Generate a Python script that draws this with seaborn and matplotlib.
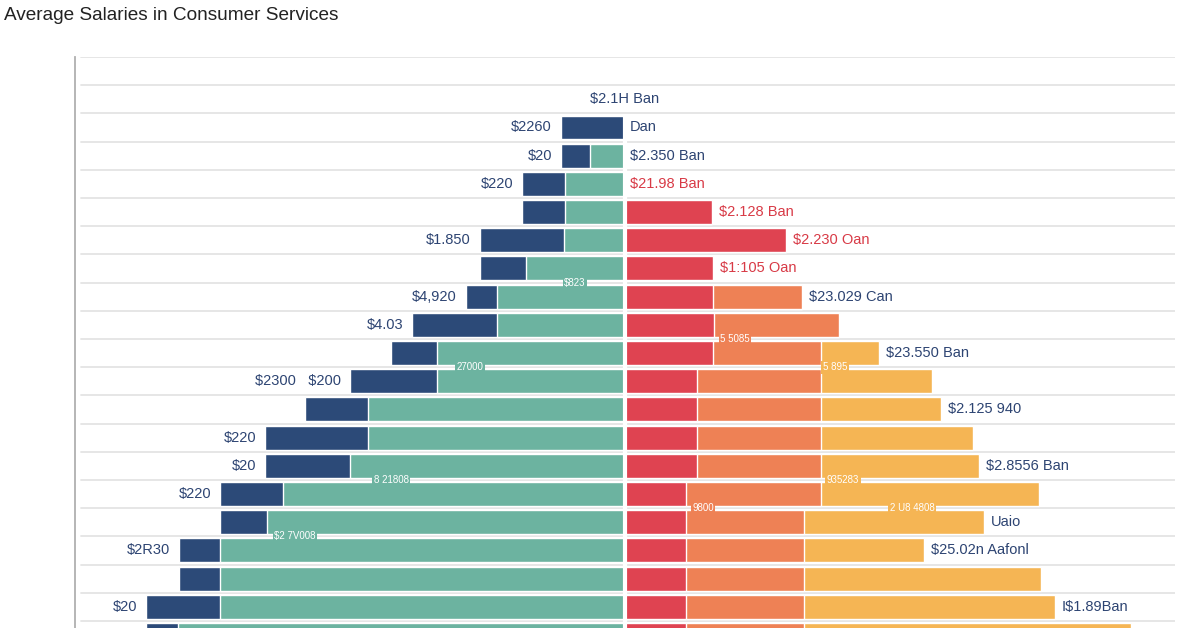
import matplotlib.pyplot as plt
import seaborn as sns
import pandas as pd

# rows top to bottom; row 0 is the empty band under the top gridline,
# row 1 only carries a label, row 20 is cut by the bottom edge
rows = [f"r{i}" for i in range(21)]

# left side, $k from the centre line
navy_total = [0, 0, 6.4, 6.4, 10.3, 10.3, 14.5, 14.5, 15.9, 21.3, 23.4,
              27.5, 32.0, 36.0, 36.0, 40.5, 40.5, 44.6, 44.6, 47.9, 47.9]
teal = [0, 0, 0, 3.5, 6.0, 6.0, 6.1, 9.9, 12.8, 12.8, 18.8,
        18.8, 25.7, 25.7, 27.5, 34.2, 35.8, 40.5, 40.5, 40.5, 44.7]

# right side, cumulative $k from the centre line
red = [0, 0, 0, 0, 0, 8.7, 16.1, 8.8, 8.8, 8.9, 8.8,
       7.2, 7.2, 7.2, 7.2, 6.1, 6.1, 6.1, 6.1, 6.1, 6.1]
orange = [0, 0, 0, 0, 0, 8.7, 16.1, 8.8, 17.7, 21.4, 19.6,
          19.6, 19.6, 19.6, 19.6, 19.6, 17.9, 17.9, 17.9, 17.9, 17.9]
yellow = [0, 0, 0, 0, 0, 8.7, 16.1, 8.8, 17.7, 21.4, 25.4,
          30.7, 31.6, 34.8, 35.4, 41.4, 35.9, 29.9, 41.6, 43.0, 50.6]

left_labels = {2: "$2260", 3: "$20", 4: "$220", 6: "$1.850", 8: "$4,920",
               9: "$4.03", 11: "$2300   $200", 13: "$220", 14: "$20",
               15: "$220", 17: "$2R30", 19: "$20"}
right_labels = {2: ("Dan", "navy"), 3: ("$2.350 Ban", "navy"),
                4: ("$21.98 Ban", "red"), 5: ("$2.128 Ban", "red"),
                6: ("$2.230 Oan", "red"), 7: ("$1:105 Oan", "red"),
                8: ("$23.029 Can", "navy"), 10: ("$23.550 Ban", "navy"),
                12: ("$2.125 940", "navy"), 14: ("$2.8556 Ban", "navy"),
                16: ("Uaio", "navy"), 17: ("$25.02n Aafonl", "navy"),
                19: ("I$1.89Ban", "navy")}
top_label = "$2.1H Ban"

# small labels sitting on the row gaps: (text, x in $k, row gap, bg colour)
gap_labels = [("$823", -5.0, 7.5, "teal"), ("27000", -15.5, 10.5, "teal"),
              ("5 5085", 11.0, 9.5, "orange"), ("5 895", 21.0, 10.5, "yellow"),
              ("8 21808", -23.4, 14.5, "teal"), ("$2 7V008", -33.0, 16.5, "teal"),
              ("935283", 21.8, 14.5, "yellow"), ("9800", 7.8, 15.5, "orange"),
              ("2 U8 4808", 28.7, 15.5, "yellow")]

colors = {"navy": "#2c4a78", "teal": "#6cb3a0", "red": "#df4351",
          "orange": "#ee8155", "yellow": "#f5b554"}
text_colors = {"navy": "#2d4472", "red": "#d83a46"}

df = pd.DataFrame({"row": rows, "navy": [-v for v in navy_total],
                   "teal": [-v for v in teal], "red": red,
                   "orange": orange, "yellow": yellow})

sns.set_style("white")
plt.rcParams["font.family"] = ["Liberation Sans", "DejaVu Sans"]
plt.rcParams["text.parse_math"] = False

fig = plt.figure(figsize=(12, 6.28), dpi=100)
ax = fig.add_axes([75 / 1200, 0, 1100 / 1200, (628 - 57) / 628])

for col in ["navy", "teal", "yellow", "orange", "red"]:
    sns.barplot(data=df, x=col, y="row", order=rows, orient="y", color=colors[col],
                saturation=1, errorbar=None, width=0.85, ax=ax, zorder=2)

# gridlines behind the bars, white split down the middle of the bars
for k in range(21):
    ax.axhline(k - 0.5, xmin=0.005, xmax=1, color="#e4e4e4", lw=1.3, zorder=0)
ax.vlines(0, 1.55, 20.5, color="white", lw=3, zorder=3)

ax.set_xlim(-55, 55)
ax.set_ylim(19.75, -0.5)
ax.set_xlabel("")
ax.set_ylabel("")
ax.set_xticks([])
ax.set_yticks([])
for side in ["top", "right", "bottom"]:
    ax.spines[side].set_visible(False)
ax.spines["left"].set_color("#b0b0b0")
ax.spines["left"].set_linewidth(1.3)

fs = 10.5
for i, txt in left_labels.items():
    ax.text(-navy_total[i] - 0.9, i, txt, ha="right", va="center",
            fontsize=fs, color=text_colors["navy"], zorder=4)
for i, (txt, c) in right_labels.items():
    x = yellow[i] + 0.7 if yellow[i] > 0 else 0.45
    ax.text(x, i, txt, ha="left", va="center",
            fontsize=fs, color=text_colors[c], zorder=4)
ax.text(0, 1, top_label, ha="center", va="center", fontsize=fs,
        color=text_colors["navy"], zorder=4)

for txt, x, y, c in gap_labels:
    ax.text(x, y, txt, ha="center", va="center", fontsize=7, color="white",
            zorder=4, bbox=dict(fc=colors[c], ec="none", pad=1.2))

fig.text(0.003, 1 - 15 / 628, "Average Salaries in Consumer Services",
         ha="left", va="center", fontsize=13.7, color="#222222")

fig.savefig("out.png", dpi=100)
